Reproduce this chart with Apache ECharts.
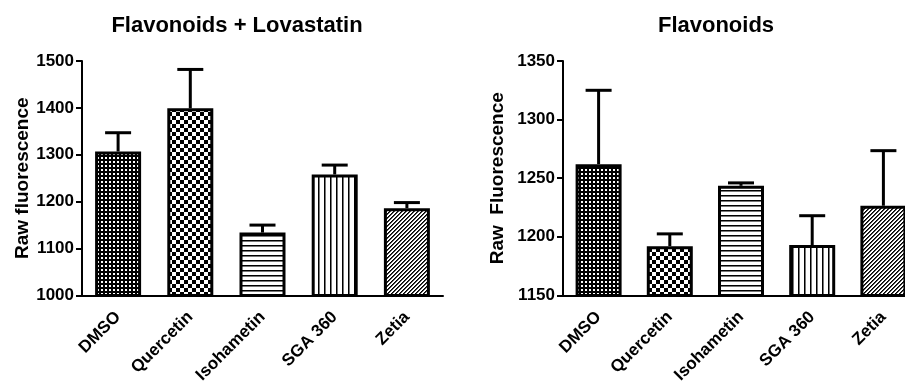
<!DOCTYPE html>
<html><head><meta charset="utf-8">
<script src="https://cdn.jsdelivr.net/npm/echarts@6/dist/echarts.min.js"></script>
<style>html,body{margin:0;padding:0;background:#fff;overflow:hidden;width:905px;height:386px}#c{width:930px;height:386px}</style>
</head><body><div id="c"></div>
<script>
// ---- data ----
const categories = ['DMSO', 'Quercetin', 'Isohametin', 'SGA 360', 'Zetia'];
const leftTitle = 'Flavonoids + Lovastatin';
const rightTitle = 'Flavonoids';
const leftValues = [1307, 1399, 1134, 1258, 1186];
const leftErrTop = [1347, 1482, 1150, 1278, 1198];
const rightValues = [1262, 1192, 1243.5, 1193, 1226.5];
const rightErrTop = [1325, 1202.5, 1246, 1218, 1273.5];
const leftAxis = { min: 1000, max: 1500, interval: 100, name: 'Raw fluorescence' };
const rightAxis = { min: 1150, max: 1350, interval: 50, name: 'Raw  Fluorescence' };

// ---- patterns ----
function tile(w, h, draw) {
  const c = document.createElement('canvas');
  c.width = w; c.height = h;
  const g = c.getContext('2d');
  g.fillStyle = '#fff'; g.fillRect(0, 0, w, h);
  draw(g);
  return { image: c, repeat: 'repeat' };
}
const patDots = tile(4, 4, g => { g.fillStyle = '#000'; g.fillRect(0, 0, 4, 4); g.fillStyle = '#fff'; g.fillRect(1, 1, 2, 2); });
const patChecker = tile(8, 8, g => { g.fillStyle = '#000'; g.fillRect(0, 0, 4, 4); g.fillRect(4, 4, 4, 4); });
const patHoriz = tile(5, 5, g => { g.fillStyle = '#000'; g.fillRect(0, 0, 5, 1); g.fillStyle = '#777'; g.fillRect(0, 1, 5, 1); });
const patVert = tile(6, 6, g => { g.fillStyle = '#000'; g.fillRect(0, 0, 1, 6); g.fillStyle = '#777'; g.fillRect(1, 0, 1, 6); });
const patDiag = tile(4, 4, g => {
  for (let x = 0; x < 4; x++) for (let y = 0; y < 4; y++) {
    const m = (x + y) % 4;
    if (m === 0) { g.fillStyle = '#000'; g.fillRect(x, y, 1, 1); }
    else if (m === 1) { g.fillStyle = '#444'; g.fillRect(x, y, 1, 1); }
  }
});
const patterns = [patDots, patChecker, patHoriz, patVert, patDiag];

const FONT = 'Liberation Sans, Arial, sans-serif';

function errItem(params, api) {
  const i = api.value(0), v = api.value(1), t = api.value(2);
  const p0 = api.coord([i, v]), p1 = api.coord([i, t]);
  const half = 13;
  return { type: 'group', children: [
    { type: 'line', shape: { x1: p0[0], y1: p0[1], x2: p1[0], y2: p1[1] }, style: { stroke: '#000', lineWidth: 3 } },
    { type: 'line', shape: { x1: p1[0] - half, y1: p1[1], x2: p1[0] + half, y2: p1[1] }, style: { stroke: '#000', lineWidth: 3 } }
  ] };
}

function xAxisCfg(idx) {
  return {
    type: 'category', gridIndex: idx, data: categories,
    axisLine: { lineStyle: { color: '#000', width: 2 } },
    axisTick: { alignWithLabel: true, length: 6, lineStyle: { color: '#000', width: 2 } },
    axisLabel: { rotate: 45, margin: 19, color: '#000', fontFamily: FONT, fontWeight: 'bold', fontSize: 17, interval: 0 }
  };
}
function yAxisCfg(idx, a, gap) {
  return {
    type: 'value', gridIndex: idx, min: a.min, max: a.max, interval: a.interval,
    name: a.name, nameLocation: 'middle', nameRotate: 90, nameGap: gap,
    nameTextStyle: { color: '#000', fontFamily: FONT, fontWeight: 'bold', fontSize: 19 },
    splitLine: { show: false },
    axisLine: { show: true, lineStyle: { color: '#000', width: 2 } },
    axisTick: { show: true, length: 6, lineStyle: { color: '#000', width: 2 } },
    axisLabel: { margin: 8, color: '#000', fontFamily: FONT, fontWeight: 'bold', fontSize: 17, formatter: v => String(v) }
  };
}
function barSeries(idx, vals) {
  return {
    type: 'bar', xAxisIndex: idx, yAxisIndex: idx, barWidth: 46, z: 3,
    data: vals.map((v, i) => ({ value: v, itemStyle: { color: patterns[i] } })),
    itemStyle: { borderColor: '#000', borderWidth: 3 }
  };
}
function errSeries(idx, vals, tops) {
  return {
    type: 'custom', xAxisIndex: idx, yAxisIndex: idx, z: 2,
    renderItem: errItem,
    data: vals.map((v, i) => [i, v, tops[i]])
  };
}

const chart = echarts.init(document.getElementById('c'));
chart.setOption({
  animation: false,
  backgroundColor: '#fff',
  graphic: [
    { type: 'text', x: 237, y: 15, style: { text: leftTitle, textAlign: 'center', fill: '#000', font: 'bold 22px ' + FONT } },
    { type: 'text', x: 716, y: 15, style: { text: rightTitle, textAlign: 'center', fill: '#000', font: 'bold 22px ' + FONT } }
  ],
  grid: [
    { left: 82, top: 61, width: 361, height: 236 },
    { left: 563, top: 61, width: 356, height: 235 }
  ],
  xAxis: [xAxisCfg(0), xAxisCfg(1)],
  yAxis: [yAxisCfg(0, leftAxis, 50), yAxisCfg(1, rightAxis, 56)],
  series: [
    barSeries(0, leftValues), errSeries(0, leftValues, leftErrTop),
    barSeries(1, rightValues), errSeries(1, rightValues, rightErrTop)
  ]
});
</script></body></html>
